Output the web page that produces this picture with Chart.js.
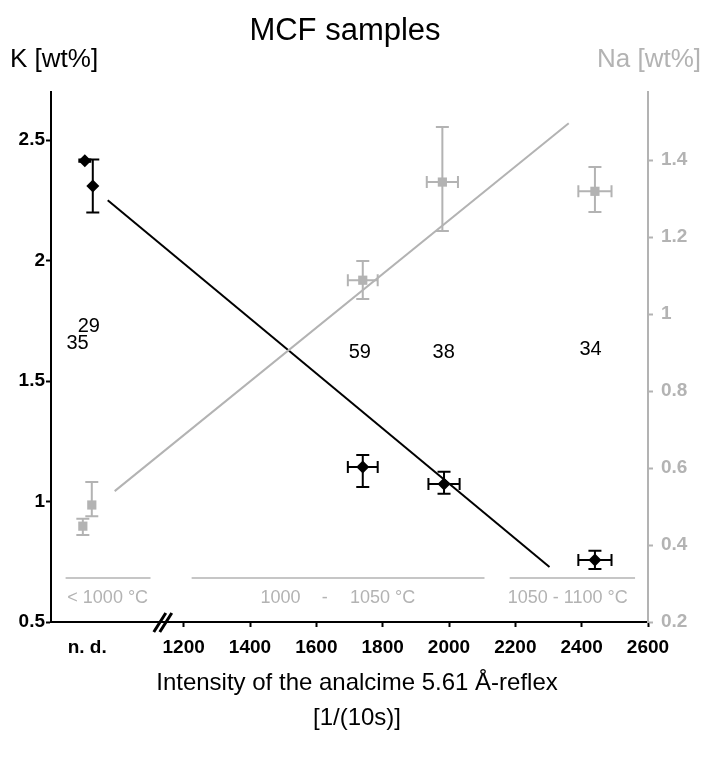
<!DOCTYPE html>
<html>
<head>
<meta charset="utf-8">
<script src="https://cdn.jsdelivr.net/npm/chart.js@4/dist/chart.umd.min.js"></script>
<style>
  html, body { margin: 0; padding: 0; background: #fff; }
  #wrap { width: 713px; height: 758px; position: relative; }
</style>
</head>
<body>
<div id="wrap"><canvas id="mcfChart"></canvas></div>
<script>
// K content (left axis, black diamonds)
const kX = [902, 926, 1740, 1985, 2440];
const kY = [2.415, 2.31, 1.143, 1.073, 0.757];
const kErrUp = [0.005, 0.11, 0.05, 0.051, 0.039];
const kErrDown = [0.005, 0.11, 0.083, 0.041, 0.037];
const kErrX = [0, 0, 45, 47, 50];

// Na content (right axis, grey squares)
const naX = [896, 923, 1740, 1980, 2440];
const naY = [0.449, 0.504, 1.088, 1.343, 1.319];
const naErrUp = [0.019, 0.06, 0.05, 0.143, 0.063];
const naErrDown = [0.023, 0.029, 0.049, 0.127, 0.054];
const naErrX = [0, 0, 45, 47, 50];

// trend lines
const kFitX = [971, 2303];
const kFitY = [2.251, 0.728];
const naFitX = [992, 2361];
const naFitY = [0.54, 1.496];

// ticks
const xTicks = [909, 1200, 1400, 1600, 1800, 2000, 2200, 2400, 2600];
const xTickLabels = ["n. d.", "1200", "1400", "1600", "1800", "2000", "2200", "2400", "2600"];
const kTicks = [0.5, 1, 1.5, 2, 2.5];
const naTicks = [0.2, 0.4, 0.6, 0.8, 1, 1.2, 1.4];
const naTickLabels = ["0.2", "0.4", "0.6", "0.8", "1", "1.2", "1.4"];

// sample counts written in the plot
const countLabels = ["35", "29", "59", "38", "34"];
const countX = [880, 914, 1731, 1984, 2427];
const countY = [1.658, 1.728, 1.62, 1.62, 1.633];

// temperature ranges along the bottom
const rangeStart = [844, 1224, 2183];
const rangeEnd = [1100, 2107, 2561];
const rangeTexts = ["< 1000 °C", "1000", "-", "1050 °C", "1050 - 1100 °C"];
const rangeTextX = [971, 1492, 1625, 1800, 2358];

const BLACK = "#000000";
const GREY = "#b3b3b3";
const FONT = '"Liberation Sans", Arial, sans-serif';
Chart.defaults.font.family = FONT;

const pts = (xs, ys) => xs.map((x, i) => ({ x: x, y: ys[i] }));

// error bars, drawn under the markers
const errorBars = {
  id: "errorBars",
  beforeDatasetsDraw(chart) {
    const ctx = chart.ctx;
    const xs = chart.scales.x;
    const sets = [
      { x: naX, y: naY, up: naErrUp, down: naErrDown, ex: naErrX, axis: "yNa", color: GREY },
      { x: kX, y: kY, up: kErrUp, down: kErrDown, ex: kErrX, axis: "yK", color: BLACK },
    ];
    ctx.save();
    ctx.lineWidth = 2;
    sets.forEach(s => {
      const ys = chart.scales[s.axis];
      ctx.strokeStyle = s.color;
      s.x.forEach((xv, i) => {
        const px = xs.getPixelForValue(xv);
        const py = ys.getPixelForValue(s.y[i]);
        const top = ys.getPixelForValue(s.y[i] + s.up[i]);
        const bot = ys.getPixelForValue(s.y[i] - s.down[i]);
        ctx.beginPath();
        ctx.moveTo(px, top); ctx.lineTo(px, bot);
        ctx.moveTo(px - 6.5, top); ctx.lineTo(px + 6.5, top);
        ctx.moveTo(px - 6.5, bot); ctx.lineTo(px + 6.5, bot);
        if (s.ex[i] > 0) {
          const l = xs.getPixelForValue(xv - s.ex[i]);
          const r = xs.getPixelForValue(xv + s.ex[i]);
          ctx.moveTo(l, py); ctx.lineTo(r, py);
          ctx.moveTo(l, py - 6); ctx.lineTo(l, py + 6);
          ctx.moveTo(r, py - 6); ctx.lineTo(r, py + 6);
        }
        ctx.stroke();
      });
    });
    ctx.restore();
  },
};

// titles, counts, temperature ranges, axis break
const annotations = {
  id: "annotations",
  afterDraw(chart) {
    const ctx = chart.ctx;
    const xs = chart.scales.x;
    const yk = chart.scales.yK;
    const area = chart.chartArea;
    ctx.save();
    ctx.textBaseline = "middle";

    ctx.fillStyle = BLACK;
    ctx.font = "31px " + FONT;
    ctx.textAlign = "center";
    ctx.fillText("MCF samples", 345, 31);

    ctx.font = "26px " + FONT;
    ctx.textAlign = "left";
    ctx.fillText("K [wt%]", 10, 60);
    ctx.fillStyle = GREY;
    ctx.textAlign = "right";
    ctx.fillText("Na [wt%]", 701, 60);

    ctx.font = "24px " + FONT;
    ctx.fillStyle = BLACK;
    ctx.textAlign = "center";
    ctx.fillText("Intensity of the analcime 5.61 Å-reflex", 357, 683);
    ctx.fillText("[1/(10s)]", 357, 718);

    // sample counts
    ctx.font = "20px " + FONT;
    countLabels.forEach((t, i) => {
      ctx.fillText(t, xs.getPixelForValue(countX[i]), yk.getPixelForValue(countY[i]));
    });

    // temperature range lines and labels
    ctx.strokeStyle = GREY;
    ctx.lineWidth = 1.5;
    const lineY = yk.getPixelForValue(0.683);
    rangeStart.forEach((a, i) => {
      ctx.beginPath();
      ctx.moveTo(xs.getPixelForValue(a), lineY);
      ctx.lineTo(xs.getPixelForValue(rangeEnd[i]), lineY);
      ctx.stroke();
    });
    ctx.fillStyle = GREY;
    ctx.font = "18px " + FONT;
    const textY = yk.getPixelForValue(0.6);
    rangeTexts.forEach((t, i) => {
      ctx.fillText(t, xs.getPixelForValue(rangeTextX[i]), textY);
    });

    // axis break mark
    const bx = xs.getPixelForValue(1134);
    const by = area.bottom;
    ctx.strokeStyle = BLACK;
    ctx.lineWidth = 3;
    ctx.beginPath();
    ctx.moveTo(bx - 8, by + 10); ctx.lineTo(bx + 4, by - 9);
    ctx.moveTo(bx - 2, by + 10); ctx.lineTo(bx + 10, by - 9);
    ctx.stroke();
    ctx.restore();
  },
};

new Chart(document.getElementById("mcfChart"), {
  type: "scatter",
  data: {
    datasets: [
      {
        label: "Na trend",
        data: pts(naFitX, naFitY),
        showLine: true,
        borderColor: GREY,
        borderWidth: 2,
        pointRadius: 0,
        yAxisID: "yNa",
      },
      {
        label: "K trend",
        data: pts(kFitX, kFitY),
        showLine: true,
        borderColor: BLACK,
        borderWidth: 2,
        pointRadius: 0,
        yAxisID: "yK",
      },
      {
        label: "Na",
        data: pts(naX, naY),
        pointStyle: "rect",
        pointRadius: 6.5,
        backgroundColor: GREY,
        borderWidth: 0,
        yAxisID: "yNa",
      },
      {
        label: "K",
        data: pts(kX, kY),
        pointStyle: "rectRot",
        pointRadius: 6.5,
        backgroundColor: BLACK,
        borderWidth: 0,
        yAxisID: "yK",
      },
    ],
  },
  options: {
    responsive: true,
    maintainAspectRatio: false,
    animation: false,
    layout: { padding: { top: 92, left: 0, right: 0, bottom: 0 } },
    plugins: { legend: { display: false }, tooltip: { enabled: false } },
    scales: {
      x: {
        type: "linear",
        position: "bottom",
        min: 800,
        max: 2600,
        afterBuildTicks: s => { s.ticks = xTicks.map(v => ({ value: v })); },
        afterFit: s => { s.height = 136; },
        ticks: {
          autoSkip: false,
          maxRotation: 0,
          padding: 9,
          color: BLACK,
          font: { size: 19, weight: "bold" },
          callback: (v, i) => xTickLabels[i],
        },
        grid: {
          drawOnChartArea: false,
          tickLength: 5,
          tickWidth: 2,
          tickColor: c => (c.index === 0 ? "rgba(0,0,0,0)" : BLACK),
        },
        border: { color: BLACK, width: 2 },
      },
      yK: {
        type: "linear",
        position: "left",
        min: 0.5,
        max: 2.7,
        afterBuildTicks: s => { s.ticks = kTicks.map(v => ({ value: v })); },
        afterFit: s => { s.width = 51; },
        ticks: {
          padding: 1,
          color: BLACK,
          font: { size: 19, weight: "bold" },
          callback: v => String(v),
        },
        grid: { drawOnChartArea: false, tickLength: 5, tickWidth: 2, tickColor: BLACK },
        border: { color: BLACK, width: 2 },
      },
      yNa: {
        type: "linear",
        position: "right",
        min: 0.2,
        max: 1.577,
        afterBuildTicks: s => { s.ticks = naTicks.map(v => ({ value: v })); },
        afterFit: s => { s.width = 65; },
        ticks: {
          padding: 8,
          color: GREY,
          font: { size: 19, weight: "bold" },
          callback: (v, i) => naTickLabels[i],
        },
        grid: { drawOnChartArea: false, tickLength: 5, tickWidth: 2, tickColor: GREY },
        border: { color: GREY, width: 2 },
      },
    },
  },
  plugins: [errorBars, annotations],
});
</script>
</body>
</html>
